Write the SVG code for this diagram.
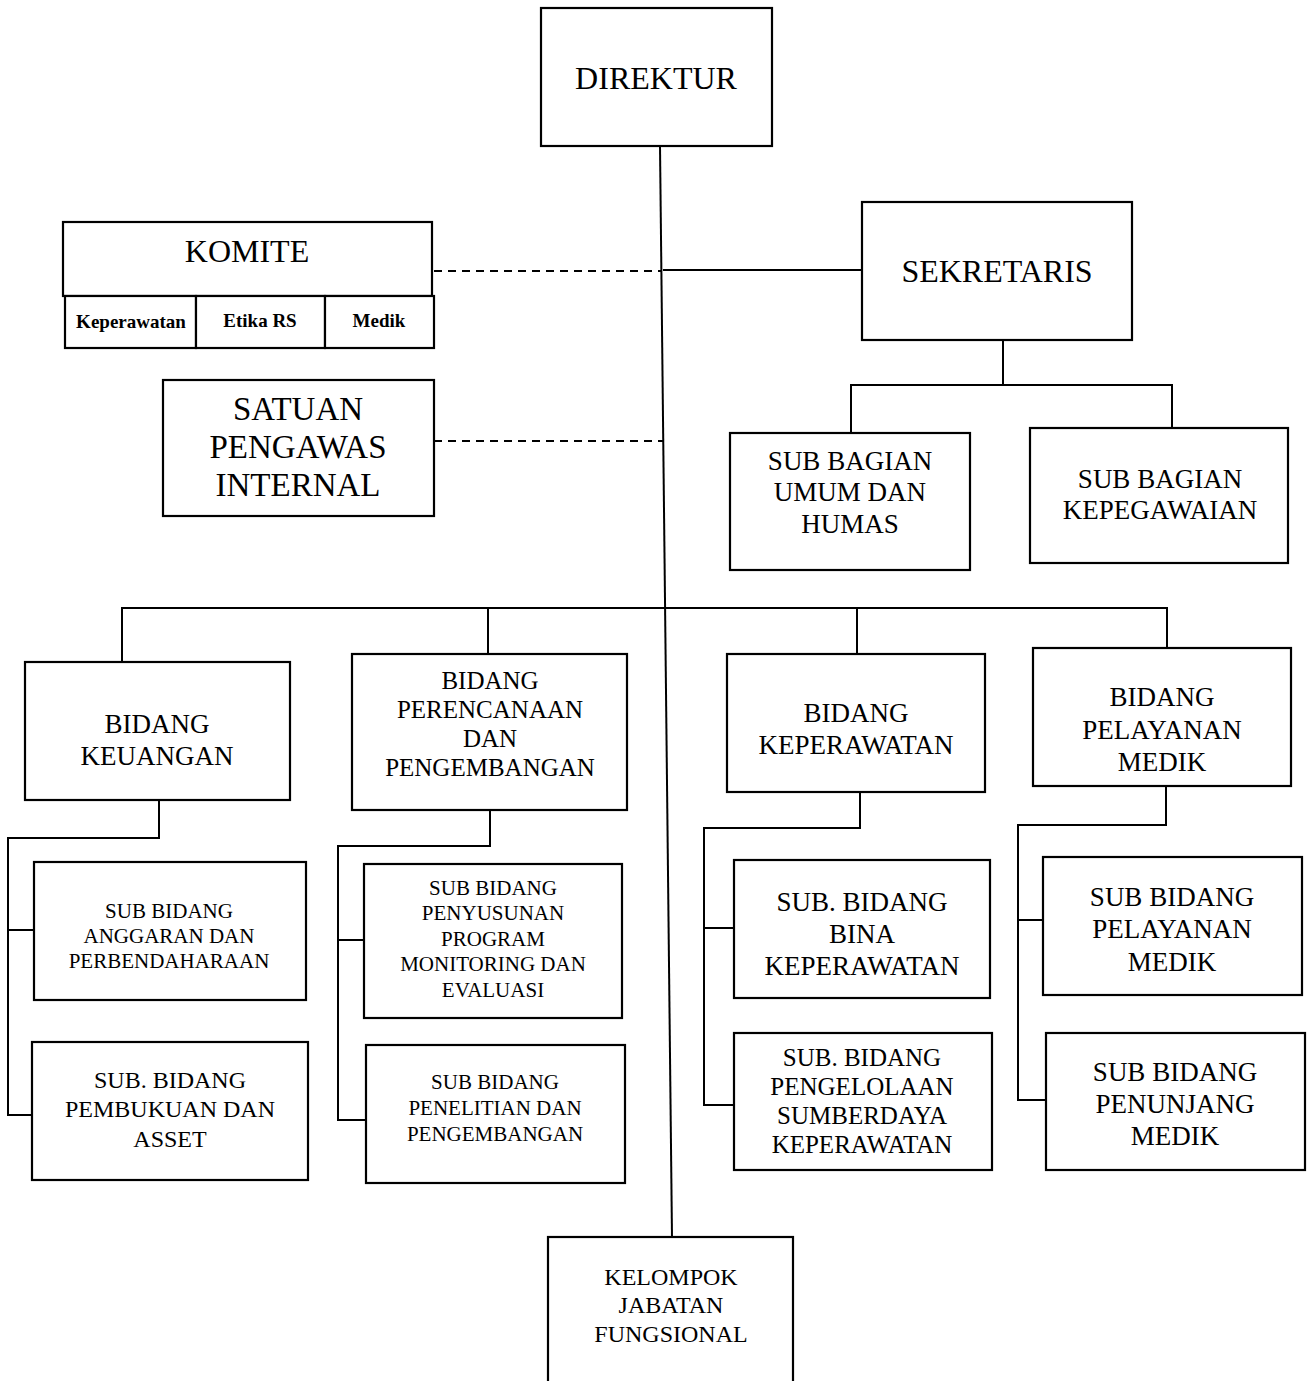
<svg xmlns="http://www.w3.org/2000/svg" width="1311" height="1381" viewBox="0 0 1311 1381">
<style>
.box{fill:#fff;stroke:#000;stroke-width:2.2}
.ln{fill:none;stroke:#000;stroke-width:2}
.dash{fill:none;stroke:#000;stroke-width:2;stroke-dasharray:8 6}
text{font-family:"Liberation Serif","Times New Roman",serif;fill:#000;text-anchor:middle}
.t33{font-size:33px}.t32{font-size:32px}.t27{font-size:27px}.t25{font-size:25px}.t24{font-size:24px}.t21{font-size:21px}
.sm{font-size:19px;font-weight:bold}
</style>
<rect width="1311" height="1381" fill="#fff"/>
<g id="connectors">
<line class="ln" x1="660" y1="146" x2="672" y2="1237"/>
<line class="ln" x1="663" y1="270" x2="862" y2="270"/>
<line class="dash" x1="434" y1="271" x2="662" y2="271"/>
<line class="dash" x1="434" y1="441" x2="664" y2="441"/>
<polyline class="ln" points="1003,340 1003,385"/>
<polyline class="ln" points="851,433 851,385 1172,385 1172,428"/>
<polyline class="ln" points="122,662 122,608 1167,608 1167,648"/>
<line class="ln" x1="488" y1="608" x2="488" y2="654"/>
<line class="ln" x1="857" y1="608" x2="857" y2="654"/>
<polyline class="ln" points="159,800 159,838 8,838 8,1115 34,1115"/>
<line class="ln" x1="8" y1="930" x2="34" y2="930"/>
<polyline class="ln" points="490,810 490,846 338,846 338,1120 366,1120"/>
<line class="ln" x1="338" y1="940" x2="364" y2="940"/>
<polyline class="ln" points="860,792 860,828 704,828 704,1105 734,1105"/>
<line class="ln" x1="704" y1="928" x2="734" y2="928"/>
<polyline class="ln" points="1166,786 1166,825 1018,825 1018,1100 1046,1100"/>
<line class="ln" x1="1018" y1="920" x2="1043" y2="920"/>
</g>
<g id="direktur"><rect class="box" x="541" y="8" width="231" height="138"/><text class="t32" x="656" y="89">DIREKTUR</text></g>
<g id="komite">
<rect class="box" x="63" y="222" width="369" height="74"/>
<text class="t32" x="247" y="262">KOMITE</text>
<rect class="box" x="65" y="296" width="131" height="52"/>
<rect class="box" x="196" y="296" width="129" height="52"/>
<rect class="box" x="325" y="296" width="109" height="52"/>
<text class="sm" x="131" y="328">Keperawatan</text>
<text class="sm" x="260" y="327">Etika RS</text>
<text class="sm" x="379" y="327">Medik</text>
</g>
<g id="spi"><rect class="box" x="163" y="380" width="271" height="136"/>
<text class="t33" x="298" y="420">SATUAN</text><text class="t33" x="298" y="458">PENGAWAS</text><text class="t33" x="298" y="496">INTERNAL</text></g>
<g id="sekretaris"><rect class="box" x="862" y="202" width="270" height="138"/><text class="t32" x="997" y="282">SEKRETARIS</text></g>
<g id="sb-umum"><rect class="box" x="730" y="433" width="240" height="137"/>
<text class="t27" x="850" y="470">SUB BAGIAN</text><text class="t27" x="850" y="501">UMUM DAN</text><text class="t27" x="850" y="533">HUMAS</text></g>
<g id="sb-kepeg"><rect class="box" x="1030" y="428" width="258" height="135"/>
<text class="t27" x="1160" y="488">SUB BAGIAN</text><text class="t27" x="1160" y="519">KEPEGAWAIAN</text></g>
<g id="b-keuangan"><rect class="box" x="25" y="662" width="265" height="138"/>
<text class="t27" x="157" y="733">BIDANG</text><text class="t27" x="157" y="765">KEUANGAN</text></g>
<g id="b-perencanaan"><rect class="box" x="352" y="654" width="275" height="156"/>
<text class="t25" x="490" y="689">BIDANG</text><text class="t25" x="490" y="718">PERENCANAAN</text><text class="t25" x="490" y="747">DAN</text><text class="t25" x="490" y="776">PENGEMBANGAN</text></g>
<g id="b-keperawatan"><rect class="box" x="727" y="654" width="258" height="138"/>
<text class="t27" x="856" y="722">BIDANG</text><text class="t27" x="856" y="754">KEPERAWATAN</text></g>
<g id="b-pelayanan"><rect class="box" x="1033" y="648" width="258" height="138"/>
<text class="t27" x="1162" y="706">BIDANG</text><text class="t27" x="1162" y="739">PELAYANAN</text><text class="t27" x="1162" y="771">MEDIK</text></g>
<g id="sbd-anggaran"><rect class="box" x="34" y="862" width="272" height="138"/>
<text class="t21" x="169" y="918">SUB BIDANG</text><text class="t21" x="169" y="943">ANGGARAN DAN</text><text class="t21" x="169" y="968">PERBENDAHARAAN</text></g>
<g id="sbd-pembukuan"><rect class="box" x="32" y="1042" width="276" height="138"/>
<text class="t24" x="170" y="1088">SUB. BIDANG</text><text class="t24" x="170" y="1117">PEMBUKUAN DAN</text><text class="t24" x="170" y="1147">ASSET</text></g>
<g id="sbd-penyusunan"><rect class="box" x="364" y="864" width="258" height="154"/>
<text class="t21" x="493" y="895">SUB BIDANG</text><text class="t21" x="493" y="920">PENYUSUNAN</text><text class="t21" x="493" y="946">PROGRAM</text><text class="t21" x="493" y="971">MONITORING DAN</text><text class="t21" x="493" y="997">EVALUASI</text></g>
<g id="sbd-penelitian"><rect class="box" x="366" y="1045" width="259" height="138"/>
<text class="t21" x="495" y="1089">SUB BIDANG</text><text class="t21" x="495" y="1115">PENELITIAN DAN</text><text class="t21" x="495" y="1141">PENGEMBANGAN</text></g>
<g id="sbd-bina"><rect class="box" x="734" y="860" width="256" height="138"/>
<text class="t27" x="862" y="911">SUB. BIDANG</text><text class="t27" x="862" y="943">BINA</text><text class="t27" x="862" y="975">KEPERAWATAN</text></g>
<g id="sbd-pengelolaan"><rect class="box" x="734" y="1033" width="258" height="137"/>
<text class="t25" x="862" y="1066">SUB. BIDANG</text><text class="t25" x="862" y="1095">PENGELOLAAN</text><text class="t25" x="862" y="1124">SUMBERDAYA</text><text class="t25" x="862" y="1153">KEPERAWATAN</text></g>
<g id="sbd-pelayanan"><rect class="box" x="1043" y="857" width="259" height="138"/>
<text class="t27" x="1172" y="906">SUB BIDANG</text><text class="t27" x="1172" y="938">PELAYANAN</text><text class="t27" x="1172" y="971">MEDIK</text></g>
<g id="sbd-penunjang"><rect class="box" x="1046" y="1033" width="259" height="137"/>
<text class="t27" x="1175" y="1081">SUB BIDANG</text><text class="t27" x="1175" y="1113">PENUNJANG</text><text class="t27" x="1175" y="1145">MEDIK</text></g>
<g id="kelompok"><rect class="box" x="548" y="1237" width="245" height="150"/>
<text class="t24" x="671" y="1285">KELOMPOK</text><text class="t24" x="671" y="1313">JABATAN</text><text class="t24" x="671" y="1342">FUNGSIONAL</text></g>
</svg>
